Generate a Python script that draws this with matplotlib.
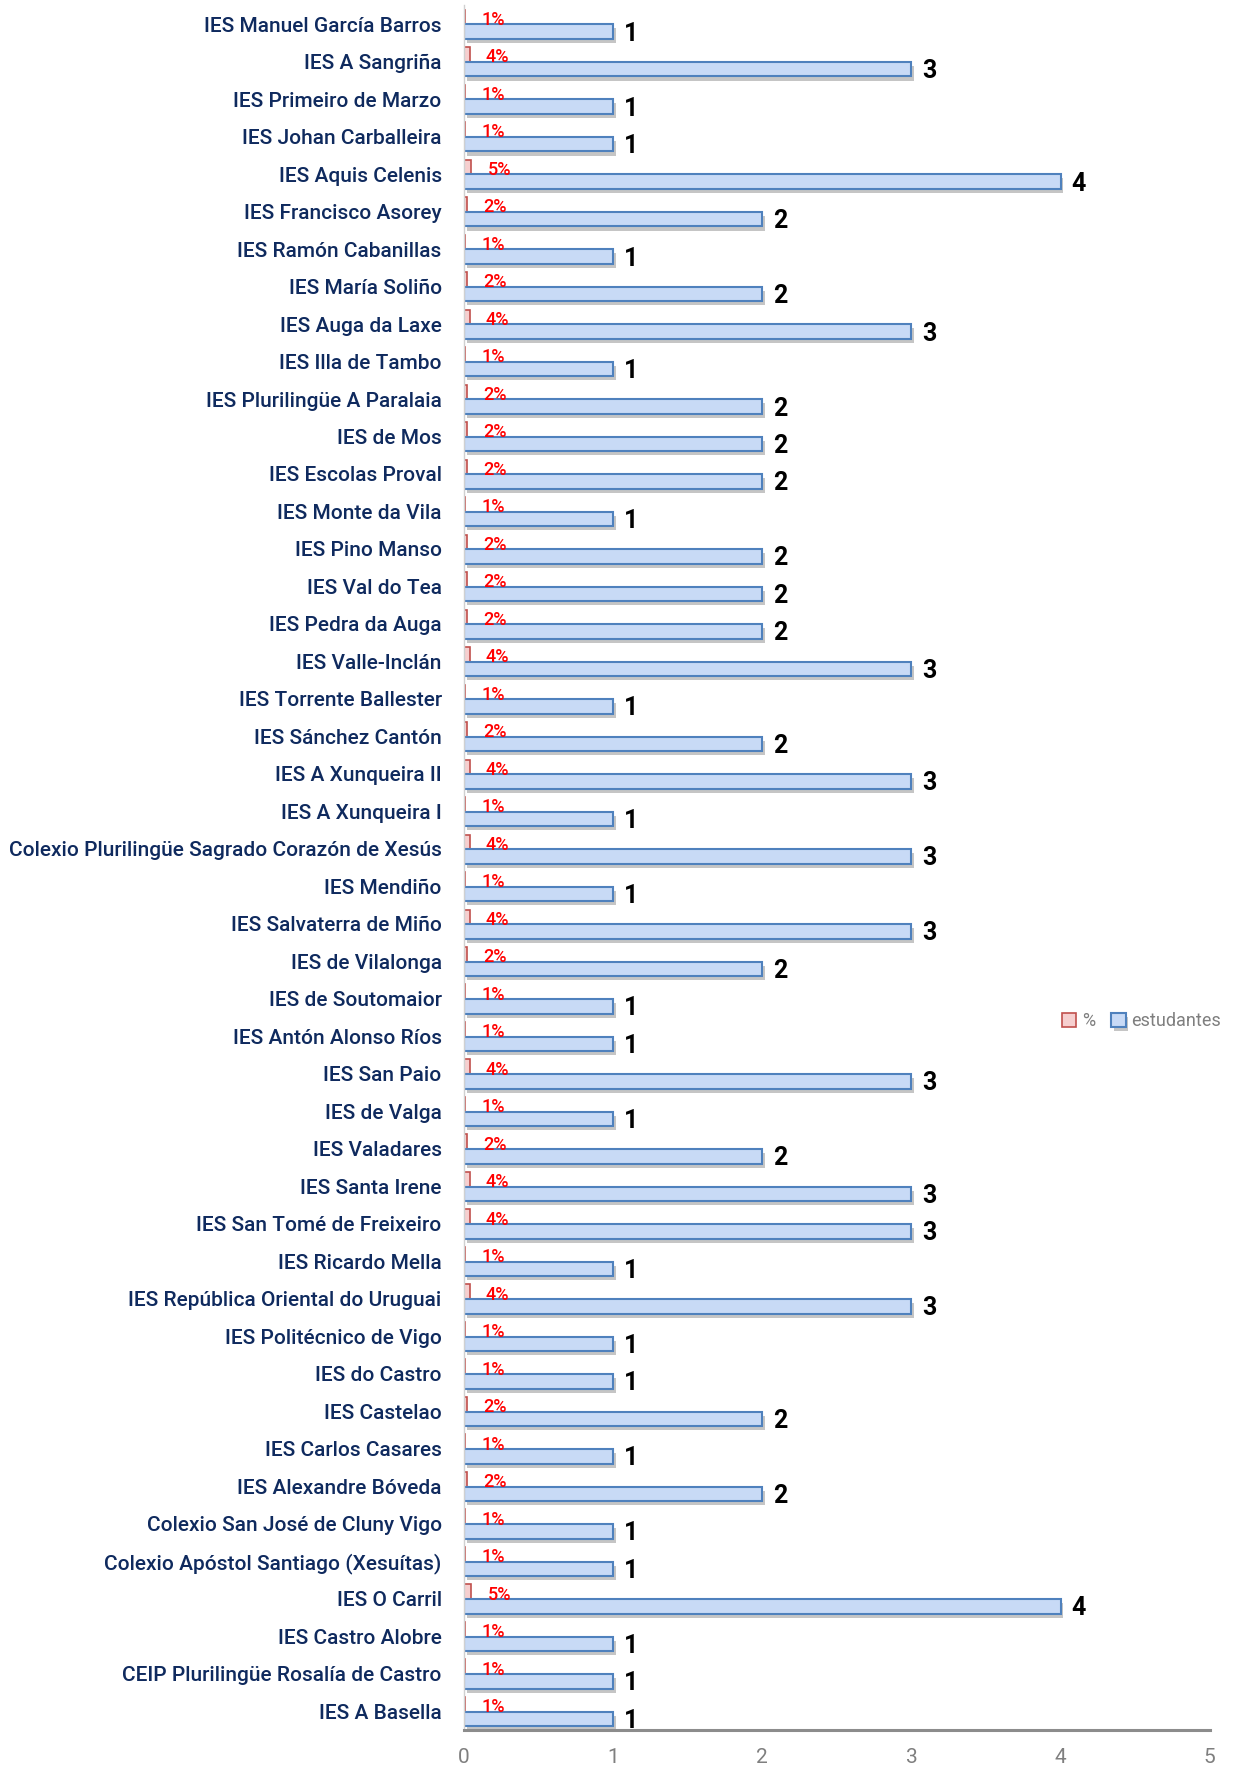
import matplotlib.pyplot as plt
import matplotlib.patheffects as pe
import numpy as np

# Données : établissements (de haut en bas), nombre d'étudiants et pourcentage
centros = [
    "IES Manuel García Barros", "IES A Sangriña", "IES Primeiro de Marzo",
    "IES Johan Carballeira", "IES Aquis Celenis", "IES Francisco Asorey",
    "IES Ramón Cabanillas", "IES María Soliño", "IES Auga da Laxe",
    "IES Illa de Tambo", "IES Plurilingüe A Paralaia", "IES de Mos",
    "IES Escolas Proval", "IES Monte da Vila", "IES Pino Manso",
    "IES Val do Tea", "IES Pedra da Auga", "IES Valle-Inclán",
    "IES Torrente Ballester", "IES Sánchez Cantón", "IES A Xunqueira II",
    "IES A Xunqueira I", "Colexio Plurilingüe Sagrado Corazón de Xesús",
    "IES Mendiño", "IES Salvaterra de Miño", "IES de Vilalonga",
    "IES de Soutomaior", "IES Antón Alonso Ríos", "IES San Paio",
    "IES de Valga", "IES Valadares", "IES Santa Irene",
    "IES San Tomé de Freixeiro", "IES Ricardo Mella",
    "IES República Oriental do Uruguai", "IES Politécnico de Vigo",
    "IES do Castro", "IES Castelao", "IES Carlos Casares",
    "IES Alexandre Bóveda", "Colexio San José de Cluny Vigo",
    "Colexio Apóstol Santiago (Xesuítas)", "IES O Carril",
    "IES Castro Alobre", "CEIP Plurilingüe Rosalía de Castro", "IES A Basella",
]

estudantes = [1, 3, 1, 1, 4, 2, 1, 2, 3, 1, 2, 2, 2, 1, 2, 2, 2, 3, 1, 2, 3, 1,
              3, 1, 3, 2, 1, 1, 3, 1, 2, 3, 3, 1, 3, 1, 1, 2, 1, 2, 1, 1, 4,
              1, 1, 1]

porcentaxe = [1, 4, 1, 1, 5, 2, 1, 2, 4, 1, 2, 2, 2, 1, 2, 2, 2, 4, 1, 2, 4, 1,
              4, 1, 4, 2, 1, 1, 4, 1, 2, 4, 4, 1, 4, 1, 1, 2, 1, 2, 1, 1, 5,
              1, 1, 1]

x_ticks = [0, 1, 2, 3, 4, 5]

fonte = ['Roboto', 'DejaVu Sans']
azul_texto = '#0f2a5e'

fig = plt.figure(figsize=(12.37, 17.69), dpi=100)
ax = fig.add_axes([0.375, 0.022, 0.603, 0.975])

y = np.arange(len(centros))
h = 0.39
sombra = [pe.SimplePatchShadow(offset=(2, -3), shadow_rgbFace='#7f7f7f', alpha=0.45),
          pe.Normal()]

pct = np.array(porcentaxe) / 100
b_pct = ax.barh(y - 0.19, pct, height=h, color='#f6cfcf', edgecolor='#c0504d',
                linewidth=1.2, label='%')
b_est = ax.barh(y + 0.20, estudantes, height=h, color='#c8daf6', edgecolor='#4f81bd',
                linewidth=1.5, label='estudantes')
for b in b_est:
    b.set_path_effects(sombra)

# Étiquettes de valeurs
for i in range(len(centros)):
    ax.annotate(f"{porcentaxe[i]}%", (pct[i], y[i] - 0.19), xytext=(16, -3),
                textcoords='offset pixels', ha='left', va='center',
                color='#ff0000', fontsize=13, family=fonte, fontweight='medium')
    ax.annotate(str(estudantes[i]), (estudantes[i], y[i] + 0.20), xytext=(11, -2),
                textcoords='offset pixels', ha='left', va='center',
                color='black', fontsize=18, fontweight='bold', family=fonte)

ax.set_ylim(len(centros) - 0.5, -0.5)
ax.set_xlim(0, 5)
ax.set_yticks(y)
ax.set_yticklabels(centros, family=fonte, fontsize=15, color=azul_texto,
                   fontweight='medium')
ax.set_xticks(x_ticks)
ax.set_xticklabels([str(t) for t in x_ticks], fontsize=15, color='#7f7f7f',
                   family=fonte)
ax.tick_params(axis='y', length=0, pad=16)
ax.tick_params(axis='x', length=0, pad=13)

for s in ['top', 'right']:
    ax.spines[s].set_visible(False)
ax.spines['bottom'].set_color('#8c8c8c')
ax.spines['bottom'].set_linewidth(2.2)
ax.spines['left'].set_color('#d0d0d0')
ax.spines['left'].set_linewidth(1)

# Légende
fig.legend(handles=[b_pct, b_est], labels=['%', 'estudantes'], loc='center right',
           bbox_to_anchor=(1.0, 1 - 1021 / 1769), ncol=2, frameon=False,
           handlelength=0.8, handleheight=0.8, handletextpad=0.3,
           columnspacing=0.9, prop={'size': 13, 'family': fonte},
           labelcolor='#7f7f7f')

plt.savefig("out.png", dpi=100)
